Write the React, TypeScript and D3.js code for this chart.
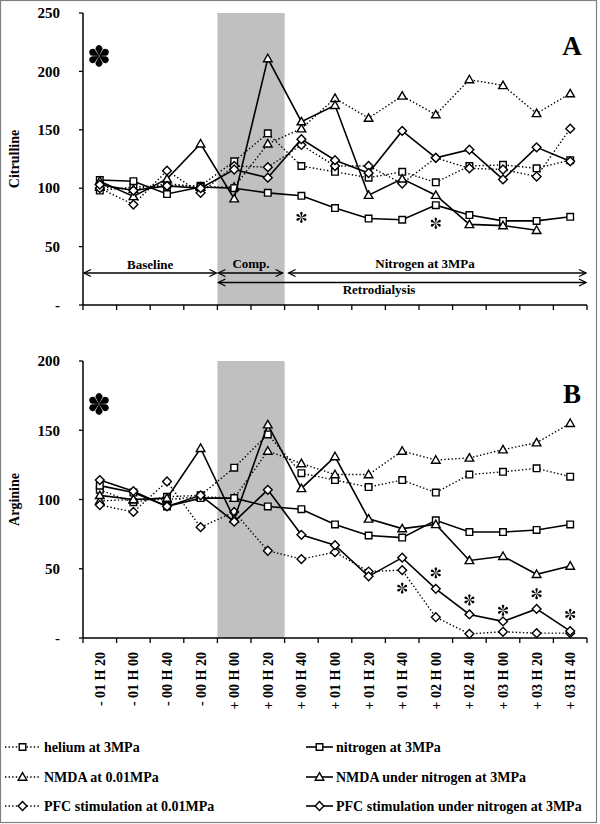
import React from "react";
import * as d3 from "d3";

// ---------- data ----------
const categories = [
  "- 01 H 20", "- 01 H 00", "- 00 H 40", "- 00 H 20",
  "+ 00 H 00", "+ 00 H 20", "+ 00 H 40", "+ 01 H 00",
  "+ 01 H 20", "+ 01 H 40", "+ 02 H 00", "+ 02 H 40",
  "+ 03 H 00", "+ 03 H 20", "+ 03 H 40",
];

const seriesLabels = [
  "helium at 3MPa",
  "nitrogen at 3MPa",
  "NMDA at 0.01MPa",
  "NMDA under nitrogen at 3MPa",
  "PFC stimulation  at 0.01MPa",
  "PFC stimulation under nitrogen at 3MPa",
];
const seriesMarkers = ["square", "square", "triangle", "triangle", "diamond", "diamond"];
const seriesDotted = [true, false, true, false, true, false];

// Panel A : Citrulline
const heliumA = [98, 101, 102, 102, 123, 147, 119, 114, 109, 114, 105, 119, 120, 117, 124];
const nitrogenA = [107, 106, 95, 101, 100, 96, 93.5, 83, 74, 73, 85.5, 77, 72, 72, 75.5];
const nmdaA = [101, 99, 104, 101, 101, 138, 151, 177, 160, 179, 163, 193, 188, 164, 181];
const nmdaNitrogenA = [106, 93, 108, 138, 91, 211, 157, 171, 94, 108, 94, 69, 68, 64, null];
const pfcA = [100, 86, 115, 96, 119, 118, 137, 119, 119, 104, 126, 117, 116, 110, 151];
const pfcNitrogenA = [103, 98, 102, 100, 116, 109, 142, 124, 113, 149, 126, 133, 107.5, 135, 123];

// Panel B : Arginine
const heliumB = [107, 98, 102, 103, 123, 147, 119, 114, 109, 114, 105, 118, 120, 122.5, 116.5];
const nitrogenB = [110, 105, 95, 101, 101, 95, 93, 82, 74, 72.5, 85, 76.5, 76.5, 78, 82];
const nmdaB = [99, 100, 100, 102, 101, 135, 126, 118, 118, 135, 128.5, 130, 136, 141, 155];
const nmdaNitrogenB = [103, 100, 101, 137, 86, 154, 108, 131, 86, 79, 82, 56, 59, 46, 52];
const pfcB = [96, 91, 113, 80, 91, 63, 57, 62, 48, 49, 15, 3, 4.5, 3.5, 3.5];
const pfcNitrogenB = [114, 106, 95, 103, 84, 107, 74.5, 67, 44.5, 58, 35.5, 17, 12, 21, 5];

const ticksA = [0, 50, 100, 150, 200, 250];
const ticksB = [0, 50, 100, 150, 200];

// significance stars (category index, value at star centre)
const starsA = [
  { i: 6, v: 75 },
  { i: 10, v: 70 },
];
const starsB = [
  { i: 9, v: 36 },
  { i: 10, v: 47 },
  { i: 11, v: 27.5 },
  { i: 12, v: 20 },
  { i: 13, v: 32 },
  { i: 14, v: 17 },
];

const seriesA = [heliumA, nitrogenA, nmdaA, nmdaNitrogenA, pfcA, pfcNitrogenA];
const seriesB = [heliumB, nitrogenB, nmdaB, nmdaNitrogenB, pfcB, pfcNitrogenB];

// ---------- layout ----------
const W = 600;
const H = 824;
const FONT = "'Liberation Serif', 'Times New Roman', serif";

const x = d3.scaleBand<string>().domain(categories).range([83, 587]).padding(0);
const cx = (i: number) => (x(categories[i]) as number) + x.bandwidth() / 2;
const yA = d3.scaleLinear().domain([0, 250]).range([305, 13]);
const yB = d3.scaleLinear().domain([0, 200]).range([638, 361]);

function markerPath(kind: string) {
  if (kind === "square") return "M-3.3,-3.3H3.3V3.3H-3.3Z";
  if (kind === "triangle") return "M0,-4.3L4.3,3.2L-4.3,3.2Z";
  return "M0,-4.4L4.4,0L0,4.4L-4.4,0Z";
}

// teardrop petal pointing up, length r, round head radius pr
function petal(r: number, pr: number) {
  const c = r - pr;
  const tx = pr * 0.75;
  const ty = c - pr * 0.6;
  return `M0,0 L${-tx},${-ty} A${pr},${pr} 0 1 1 ${tx},${-ty} Z`;
}

function Star({ px, py, r, pr, offset }: { px: number; py: number; r: number; pr: number; offset: number }) {
  return (
    <g transform={`translate(${px},${py})`}>
      {[0, 60, 120, 180, 240, 300].map((a) => (
        <path key={a} d={petal(r, pr)} transform={`rotate(${a + offset})`} fill="#000" />
      ))}
    </g>
  );
}

function Arrow({ x1, x2, y, left, right }: { x1: number; x2: number; y: number; left: boolean; right: boolean }) {
  const hl = 7;
  const hw = 3.5;
  return (
    <g stroke="#000" strokeWidth={1.3} fill="none">
      <line x1={x1} x2={x2} y1={y} y2={y} />
      {left && <path d={`M${x1 + hl},${y - hw}L${x1},${y}L${x1 + hl},${y + hw}`} />}
      {right && <path d={`M${x2 - hl},${y - hw}L${x2},${y}L${x2 - hl},${y + hw}`} />}
    </g>
  );
}

function Panel({
  series,
  y,
  ticks,
  stars,
  title,
  letter,
  showLabels,
}: {
  series: (number | null)[][];
  y: d3.ScaleLinear<number, number>;
  ticks: number[];
  stars: { i: number; v: number }[];
  title: string;
  letter: string;
  showLabels: boolean;
}) {
  const [y0, y1] = y.range();
  const top = Math.min(y0, y1);
  const bottom = Math.max(y0, y1);
  const xl = x.range()[0];
  const xr = x.range()[1];
  const shadeX0 = x(categories[4]) as number;
  const shadeX1 = (x(categories[5]) as number) + x.bandwidth();
  const line = d3
    .line<number | null>()
    .defined((d) => d != null)
    .x((_, i) => cx(i))
    .y((d) => y(d as number));
  const order = [0, 2, 4, 1, 3, 5];
  const boundaries = categories.map((c) => x(c) as number).concat([xr]);
  return (
    <g>
      <rect x={shadeX0} y={top} width={shadeX1 - shadeX0} height={bottom - top} fill="#c0c0c0" />
      {/* axes */}
      <line x1={xl} x2={xl} y1={top} y2={bottom} stroke="#000" strokeWidth={1.5} />
      <line x1={xl} x2={xr} y1={bottom} y2={bottom} stroke="#000" strokeWidth={1.5} />
      {ticks.map((t) => (
        <g key={t}>
          <line x1={xl - 4} x2={xl} y1={y(t)} y2={y(t)} stroke="#000" strokeWidth={1.3} />
          <text
            x={60}
            y={y(t)}
            dy="0.35em"
            textAnchor="end"
            fontFamily={FONT}
            fontWeight="bold"
            fontSize={15}
          >
            {t === 0 ? "-" : String(t)}
          </text>
        </g>
      ))}
      {boundaries.map((b, i) => (
        <line key={i} x1={b} x2={b} y1={bottom} y2={bottom + 5} stroke="#000" strokeWidth={1.3} />
      ))}
      {showLabels &&
        categories.map((c, i) => (
          <text
            key={c}
            transform={`translate(${cx(i)},652) rotate(-90)`}
            dy="0.35em"
            textAnchor="end"
            fontFamily={FONT}
            fontWeight="bold"
            fontSize={14}
          >
            {c}
          </text>
        ))}
      <text
        transform={`translate(14,${(top + bottom) / 2}) rotate(-90)`}
        dy="0.35em"
        textAnchor="middle"
        fontFamily={FONT}
        fontWeight="bold"
        fontSize={14}
      >
        {title}
      </text>
      {/* series */}
      {order.map((si) => (
        <g key={si}>
          <path
            d={line(series[si]) || ""}
            fill="none"
            stroke="#000"
            strokeWidth={seriesDotted[si] ? 1.4 : 1.6}
            strokeDasharray={seriesDotted[si] ? "1.4 2.2" : undefined}
          />
          {series[si].map((v, i) =>
            v == null ? null : (
              <path
                key={i}
                d={markerPath(seriesMarkers[si])}
                transform={`translate(${cx(i)},${y(v)})`}
                fill="#fff"
                stroke="#000"
                strokeWidth={1.4}
              />
            )
          )}
        </g>
      ))}
      {stars.map((s, k) => (
        <Star key={k} px={cx(s.i)} py={y(s.v)} r={5.5} pr={1.3} offset={0} />
      ))}
      <text x={572} y={top + 42} textAnchor="middle" fontFamily={FONT} fontWeight="bold" fontSize={27}>
        {letter}
      </text>
      <Star px={99} py={top + 43} r={10.5} pr={3.4} offset={0} />
    </g>
  );
}

function Legend() {
  const rows = [747, 777, 806];
  const cols = [
    { x0: 5, x1: 40, tx: 44 },
    { x0: 306, x1: 333, tx: 336 },
  ];
  return (
    <g>
      {seriesLabels.map((lab, si) => {
        const col = cols[si % 2];
        const ry = rows[Math.floor(si / 2)];
        return (
          <g key={si}>
            <line
              x1={col.x0}
              x2={col.x1}
              y1={ry}
              y2={ry}
              stroke="#000"
              strokeWidth={seriesDotted[si] ? 1.4 : 1.6}
              strokeDasharray={seriesDotted[si] ? "1.4 2.2" : undefined}
            />
            <path
              d={markerPath(seriesMarkers[si])}
              transform={`translate(${(col.x0 + col.x1) / 2},${ry})`}
              fill="#fff"
              stroke="#000"
              strokeWidth={1.4}
            />
            <text x={col.tx} y={ry} dy="0.35em" fontFamily={FONT} fontWeight="bold" fontSize={14}>
              {lab}
            </text>
          </g>
        );
      })}
    </g>
  );
}

export default function App() {
  const xl = x.range()[0];
  const shadeX0 = x(categories[4]) as number;
  const shadeX1 = (x(categories[5]) as number) + x.bandwidth();
  const xr = x.range()[1];
  return (
    <svg
      width={W}
      height={H}
      style={{ position: "absolute", left: 0, top: 0, background: "#fff" }}
    >
      <rect x={0} y={0} width={W} height={H} fill="#fff" />
      <rect x={0.5} y={0.5} width={596} height={822} fill="none" stroke="#808080" strokeWidth={1.2} />
      <Panel series={seriesA} y={yA} ticks={ticksA} stars={starsA} title="Citrulline" letter="A" showLabels={false} />
      <Panel series={seriesB} y={yB} ticks={ticksB} stars={starsB} title="Arginine" letter="B" showLabels={true} />
      {/* phase annotations in panel A */}
      <Arrow x1={xl + 1} x2={shadeX0 - 1} y={273} left right />
      <Arrow x1={shadeX0 + 1} x2={shadeX1 - 2} y={273} left right />
      <Arrow x1={shadeX1 + 4} x2={xr - 1} y={273} left right />
      <Arrow x1={shadeX0 + 1} x2={xr - 1} y={282.5} left right />
      <g fontFamily={FONT} fontWeight="bold" fontSize={13} textAnchor="middle">
        <text x={(xl + shadeX0) / 2} y={269}>Baseline</text>
        <text x={(shadeX0 + shadeX1) / 2} y={268}>Comp.</text>
        <text x={425} y={268}>Nitrogen at 3MPa</text>
        <text x={379} y={294}>Retrodialysis</text>
      </g>
      <Legend />
    </svg>
  );
}
